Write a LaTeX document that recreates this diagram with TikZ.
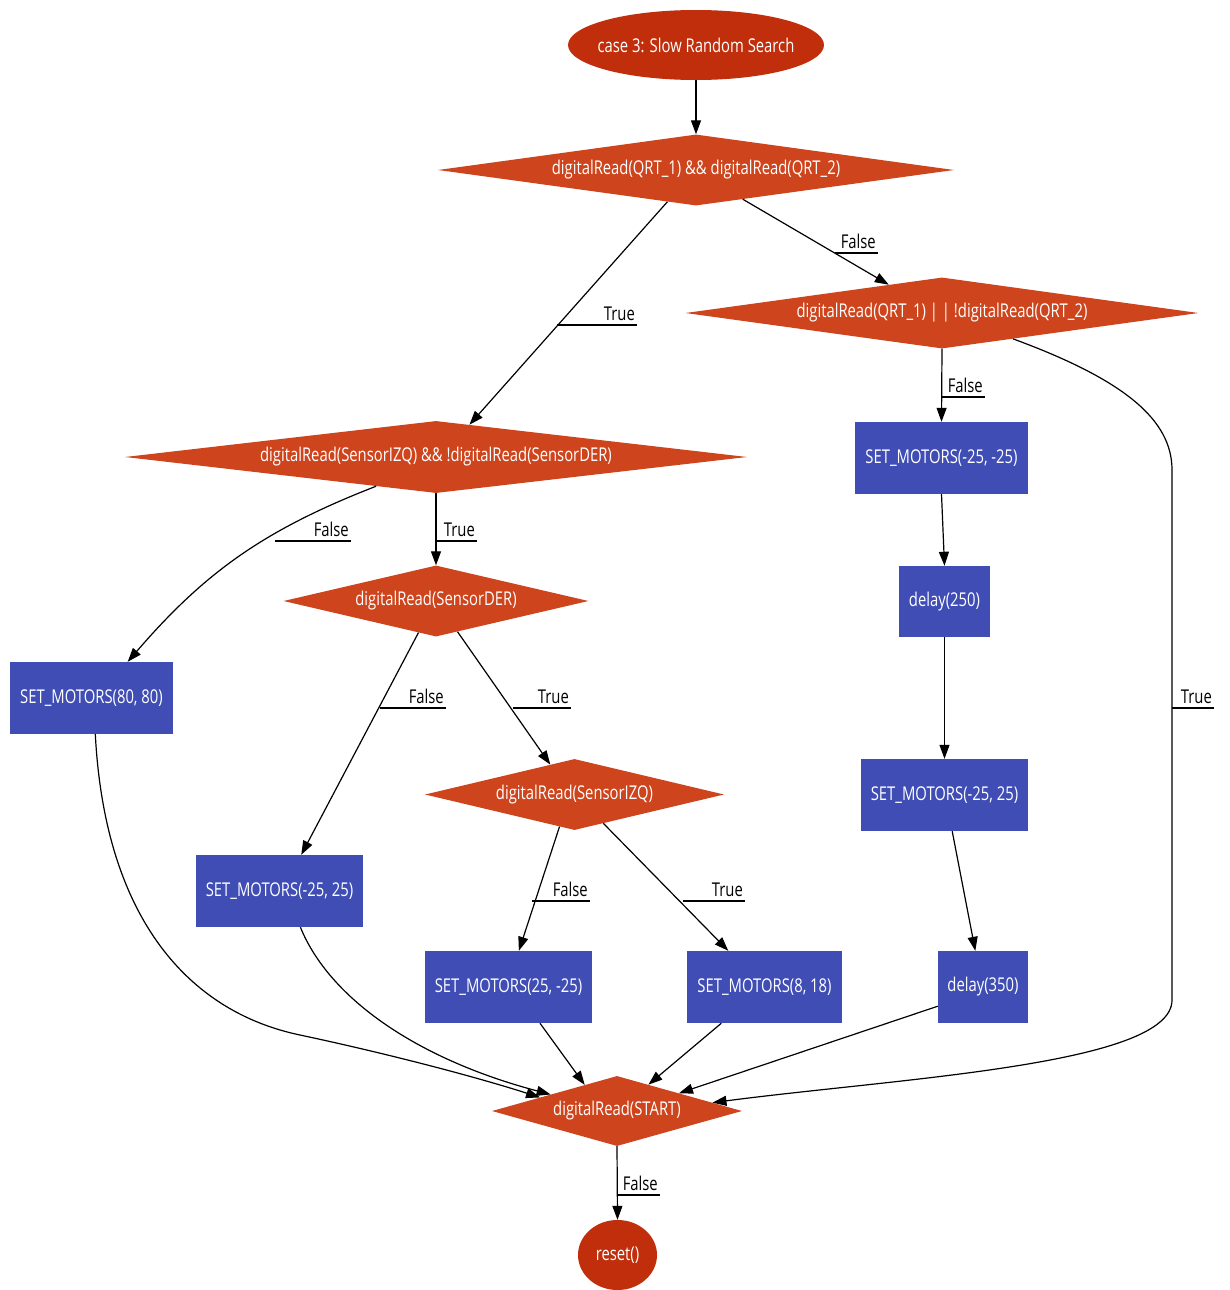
\documentclass[tikz,border=0pt]{standalone}
\usepackage{fontspec}
\setmainfont{Open Sans}[FakeStretch=0.78]
\usetikzlibrary{shapes.geometric,arrows.meta}
\definecolor{ovalred}{RGB}{192,46,12}
\definecolor{diared}{RGB}{206,68,28}
\definecolor{boxblue}{RGB}{63,77,180}
\begin{document}
\begin{tikzpicture}[x=1pt,y=-1pt, font=\fontsize{19}{21}\selectfont,
  oval/.style={ellipse, fill=ovalred, text=white, inner sep=0pt},
  dec/.style={diamond, fill=diared, text=white, inner sep=0pt, aspect=7},
  act/.style={rectangle, fill=boxblue, text=white, inner sep=0pt},
  lab/.style={anchor=south east, inner xsep=2pt, inner ysep=4pt, text=black},
  edge/.style={line width=1.2pt, -{Triangle[length=14pt,width=10pt]}},
  uline/.style={line width=1.2pt}]
\useasboundingbox[fill=white] (0,0) rectangle (1229,1290);

% nodes
\node[oval, minimum width=256, minimum height=70, inner xsep=-14pt] (s) at (696,45) {case 3: Slow Random Search};
\node[dec, minimum width=516, minimum height=71] (d1) at (696,170) {digitalRead(QRT\_1) \&\& digitalRead(QRT\_2)};
\node[dec, minimum width=513, minimum height=71] (d2) at (942,313) {digitalRead(QRT\_1) | | !digitalRead(QRT\_2)};
\node[dec, minimum width=622, minimum height=72] (d3) at (436,457) {digitalRead(SensorIZQ) \&\& !digitalRead(SensorDER)};
\node[act, minimum width=173, minimum height=72] (b1) at (941.5,458) {SET\_MOTORS(-25, -25)};
\node[dec, minimum width=305, minimum height=71, aspect=4] (d4) at (436,601) {digitalRead(SensorDER)};
\node[act, minimum width=91, minimum height=71] (b2) at (944.5,601.5) {delay(250)};
\node[act, minimum width=163, minimum height=72] (b3) at (91.5,698) {SET\_MOTORS(80, 80)};
\node[act, minimum width=167, minimum height=72] (b4) at (944.5,795) {SET\_MOTORS(-25, 25)};
\node[dec, minimum width=299, minimum height=71, aspect=4] (d5) at (574.5,794.5) {digitalRead(SensorIZQ)};
\node[act, minimum width=167, minimum height=72] (b5) at (279.5,891) {SET\_MOTORS(-25, 25)};
\node[act, minimum width=167, minimum height=72] (b6) at (508.5,987) {SET\_MOTORS(25, -25)};
\node[act, minimum width=155, minimum height=72] (b7) at (764.5,987) {SET\_MOTORS(8, 18)};
\node[act, minimum width=90, minimum height=72] (b8) at (983,987) {delay(350)};
\node[dec, minimum width=250, minimum height=70, aspect=3] (d6) at (617,1111) {digitalRead(START)};
\node[oval, minimum width=79, minimum height=70] (r) at (617.5,1255) {reset()};

% edges
\draw[edge] (s) -- (d1);
\draw[edge] (d1.328) -- (d2.152);
\draw[edge] (d1.228) -- (d3.44);
\draw[edge] (d2.south) -- (b1.north);
\coordinate (w1) at (1172,470);
\coordinate (w2) at (1172,1000);
\draw[edge] (d2.340) .. controls (1125,380) and (1172,420) .. (w1) -- (w2) .. controls (1172,1065) and (900,1078) .. (d6.5);
\draw[edge] (d3.206) to[bend right=14] (b3.45);
\draw[edge] (d3.south) -- (d4.north);
\draw[edge] (d4.241) -- (b5.59);
\draw[edge] (d4.305) -- (d5.129);
\draw[edge] (d5.245) -- (b6.74);
\draw[edge] (d5.315) -- (b7.135);
\draw[edge] (b1.south) -- (b2.north);
\draw[edge] (b2.south) -- (b4.north);
\draw[edge] (b4.282) -- (b8.102);
\coordinate (w3) at (300,1035);
\draw[edge] (b3.276) .. controls (105,920) and (190,1012) .. (w3) .. controls (380,1052) and (470,1075) .. (d6.170);
\draw[edge] (b5.300) .. controls (330,1000) and (420,1060) .. (d6.166);
\draw[edge] (b6.311) -- (d6.141);
\draw[edge] (b7.220) -- (d6.40);
\draw[edge] (b8.203) -- (d6.16);
\draw[edge] (d6.south) -- (r.north);

% labels with underlines
\node[lab] (l1) at (878,253) {False};
\coordinate (e1) at (835,253);
\draw[uline] (e1) -- (l1.south east);
\node[lab] (l2) at (637,325) {True};
\coordinate (e2) at (557,325);
\draw[uline] (e2) -- (l2.south east);
\node[lab] (l3) at (985,397) {False};
\coordinate (e3) at (942,397);
\draw[uline] (e3) -- (l3.south east);
\node[lab] (l4) at (1214,708) {True};
\coordinate (e4) at (1172,708);
\draw[uline] (e4) -- (l4.south east);
\node[lab] (l5) at (351,541) {False};
\coordinate (e5) at (275,541);
\draw[uline] (e5) -- (l5.south east);
\node[lab] (l6) at (477,541) {True};
\coordinate (e6) at (436,541);
\draw[uline] (e6) -- (l6.south east);
\node[lab] (l7) at (446,708) {False};
\coordinate (e7) at (380,708);
\draw[uline] (e7) -- (l7.south east);
\node[lab] (l8) at (571,708) {True};
\coordinate (e8) at (513,708);
\draw[uline] (e8) -- (l8.south east);
\node[lab] (l9) at (590,901) {False};
\coordinate (e9) at (532,901);
\draw[uline] (e9) -- (l9.south east);
\node[lab] (l10) at (745,901) {True};
\coordinate (e10) at (683,901);
\draw[uline] (e10) -- (l10.south east);
\node[lab] (l11) at (660,1195) {False};
\coordinate (e11) at (617,1195);
\draw[uline] (e11) -- (l11.south east);
\end{tikzpicture}
\end{document}
